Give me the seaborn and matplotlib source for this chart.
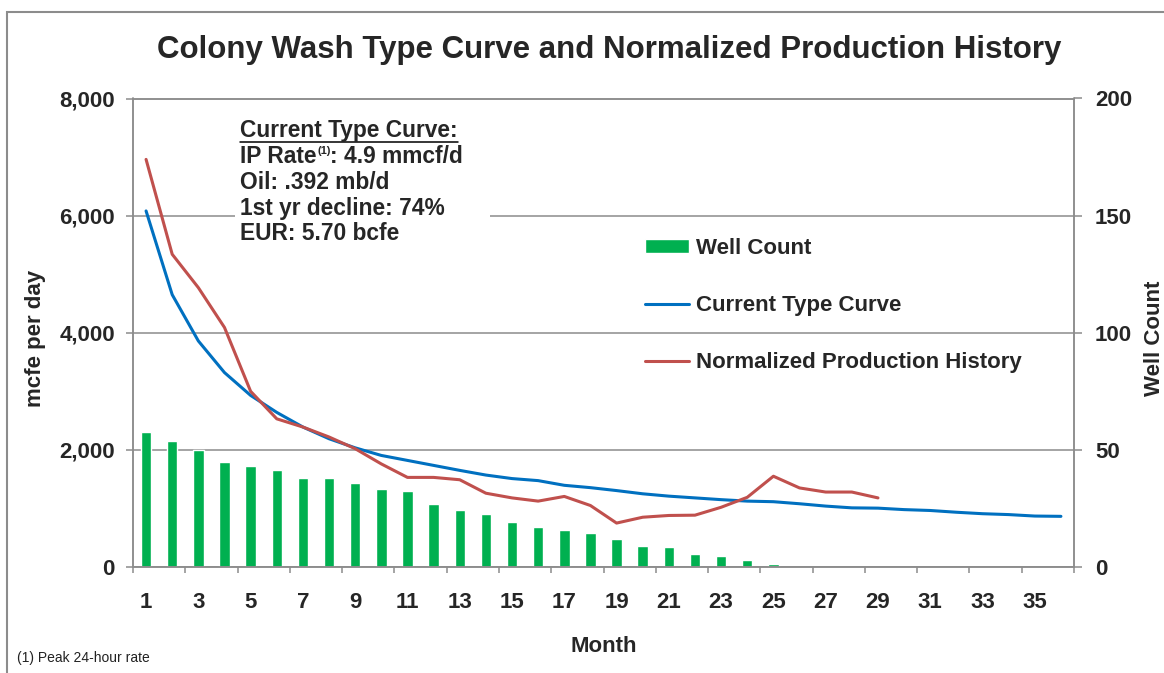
import numpy as np
import pandas as pd
import matplotlib
matplotlib.use("Agg")
import matplotlib.pyplot as plt
import seaborn as sns
from matplotlib.patches import Rectangle
from matplotlib.lines import Line2D

# data
months = list(range(1, 37))
well_count = [57.5, 54, 50, 45, 43, 41.5, 38, 38, 36, 33.5, 32.5, 27, 24.5, 22.5,
              19, 17, 16, 14.5, 12, 9, 8.5, 5.5, 4.5, 3, 1.2]
type_curve = [6080, 4650, 3860, 3320, 2930, 2640, 2390, 2190, 2035, 1905, 1820, 1735,
              1650, 1570, 1510, 1475, 1395, 1355, 1305, 1250, 1210, 1180, 1150, 1125,
              1115, 1080, 1040, 1010, 1005, 980, 965, 935, 910, 895, 870, 865]
norm_history = [6960, 5340, 4770, 4090, 3000, 2530, 2390, 2220, 2020, 1760, 1530, 1530,
                1490, 1260, 1180, 1125, 1205, 1050, 750, 850, 880, 885, 1020, 1190,
                1550, 1350, 1280, 1280, 1180]
left_ticks = [0, 2000, 4000, 6000, 8000]
right_ticks = [0, 50, 100, 150, 200]
info_lines = ["Current Type Curve:", "IP Rate", "Oil: .392 mb/d",
              "1st yr decline: 74%", "EUR: 5.70 bcfe"]
ip_note = "(1)"
ip_rest = ": 4.9 mmcf/d"

wells_df = pd.DataFrame({"month": months[:len(well_count)], "wells": well_count})
curve_df = pd.DataFrame({"month": months[:len(type_curve)], "mcfe": type_curve})
hist_df = pd.DataFrame({"month": months[:len(norm_history)], "mcfe": norm_history})

sns.set_theme(style="white")
plt.rcParams["font.family"] = ["Liberation Sans", "DejaVu Sans"]
plt.rcParams["font.weight"] = "bold"
plt.rcParams["axes.labelweight"] = "bold"

W, H = 1164, 673
GREY = "#8c8c8c"
GREEN = "#00B050"
BLUE = "#0070C0"
RED = "#C0504D"


def fx(x):
    return x / W


def fy(y):
    return 1 - y / H


fig = plt.figure(figsize=(W / 100, H / 100), dpi=100)
ax = fig.add_axes([fx(133), fy(567), (1074 - 133) / W, (567 - 98.5) / H])
ax2 = ax.twinx()

# bars on the secondary axis, lines on top
sns.barplot(data=wells_df, x="month", y="wells", native_scale=True, width=0.4,
            color=GREEN, saturation=1, errorbar=None, ax=ax2, label="Well Count")
sns.lineplot(data=curve_df, x="month", y="mcfe", color=BLUE, linewidth=2.2,
             ax=ax, label="Current Type Curve")
sns.lineplot(data=hist_df, x="month", y="mcfe", color=RED, linewidth=2.2,
             ax=ax, label="Normalized Production History")
if ax2.get_legend() is not None:
    ax2.get_legend().remove()

ax.set_zorder(ax2.get_zorder() + 1)
ax.patch.set_visible(False)

ax.set_xlim(0.5, 36.5)
ax.set_ylim(0, 8000)
ax2.set_ylim(0, 200)
ax.set_xlabel("")
ax.set_ylabel("")
ax2.set_xlabel("")
ax2.set_ylabel("")

ax.set_yticks(left_ticks)
ax.set_yticklabels([f"{v:,}" for v in left_ticks])
ax2.set_yticks(right_ticks)
ax2.set_yticklabels([str(v) for v in right_ticks])
ax.set_xticks(months[::2])
ax.set_xticklabels([str(m) for m in months[::2]])
ax.set_xticks(np.arange(0.5, 37, 2), minor=True)

ax.tick_params(axis="y", length=5, width=1.1, color=GREY, pad=8, labelsize=16, left=True)
ax2.tick_params(axis="y", length=6, width=1.1, color=GREY, pad=9, labelsize=16, right=True)
ax.tick_params(axis="x", which="major", length=0, pad=18, labelsize=16)
ax.tick_params(axis="x", which="minor", length=4.5, width=1.1, color=GREY, bottom=True)

ax.grid(False)
ax2.grid(True, axis="y", color=GREY, linewidth=1.1)
ax2.set_axisbelow(True)
for a in (ax, ax2):
    for s in a.spines.values():
        s.set_color(GREY)
        s.set_linewidth(1.1)

# legend from both axes
h2, l2 = ax2.get_legend_handles_labels()
h1, l1 = ax.get_legend_handles_labels()
ax.legend(h2 + h1, l2 + l1, loc="upper left", bbox_to_anchor=(fx(645), fy(238)),
          bbox_transform=fig.transFigure, frameon=False, fontsize=16,
          handlelength=1.98, handleheight=0.57, handletextpad=0.3,
          labelspacing=1.63, borderpad=0, borderaxespad=0)

# texts
fig.text(fx(609.5), fy(58), "Colony Wash Type Curve and Normalized Production History",
         ha="center", va="baseline", fontsize=22.5)
fig.text(fx(35), fy(338), "mcfe per day", rotation=90, ha="center", va="center", fontsize=16)
fig.text(fx(1154), fy(338), "Well Count", rotation=90, ha="center", va="center", fontsize=16)
fig.text(fx(604), fy(651.5), "Month", ha="center", va="baseline", fontsize=16)
fig.text(fx(17), fy(662), "(1) Peak 24-hour rate", ha="left", va="baseline",
         fontsize=10, fontweight="normal", color="#222222")

# white box behind the type curve notes
ax.add_patch(Rectangle((fx(235), fy(248)), (490 - 235) / W, (248 - 110) / H,
                       transform=fig.transFigure, facecolor="white", edgecolor="none",
                       zorder=0.5))
baselines = [137.5, 163, 189, 214.5, 240]
texts = []
for line, yb in zip(info_lines, baselines):
    texts.append(fig.text(fx(240), fy(yb), line, ha="left", va="baseline", fontsize=16.4))

# outer border of the picture
fig.add_artist(Rectangle((fx(7), fy(680)), (1175 - 7) / W, (680 - 12) / H,
                         transform=fig.transFigure, facecolor="none", edgecolor=GREY,
                         linewidth=1.5))

fig.canvas.draw()
bb = texts[0].get_window_extent()
fig.add_artist(Line2D([bb.x0 / W, bb.x1 / W], [fy(141.7), fy(141.7)],
                      transform=fig.transFigure, color="black", linewidth=1.1))

# small superscript note after "IP Rate", then the rest of the line
bb_ip = texts[1].get_window_extent()
sup = fig.text(bb_ip.x1 / W + fx(0.5), fy(baselines[1] - 9), ip_note, ha="left",
               va="baseline", fontsize=8)
fig.canvas.draw()
bb_sup = sup.get_window_extent()
fig.text(bb_sup.x1 / W, fy(baselines[1]), ip_rest, ha="left", va="baseline", fontsize=16.4)

fig.savefig("out.png", dpi=100)
